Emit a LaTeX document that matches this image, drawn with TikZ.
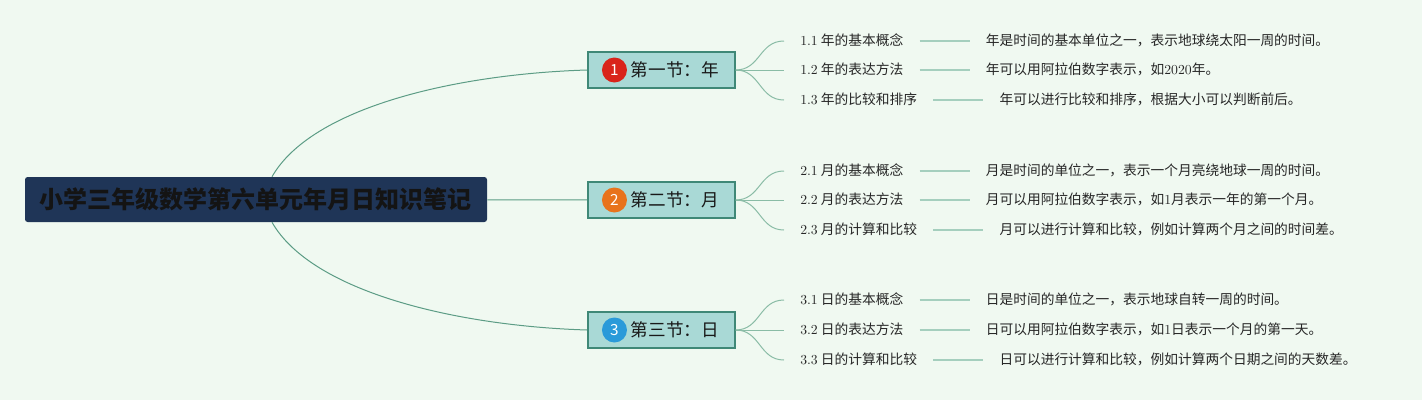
\documentclass[tikz,border=0pt]{standalone}
\usepackage{fontspec}
\newfontfamily\cjk{Noto Sans CJK SC}
\usetikzlibrary{positioning}
\definecolor{bgmint}{HTML}{F0F9F1}
\definecolor{rootblue}{HTML}{1F3557}
\definecolor{secfill}{HTML}{A9D9D6}
\definecolor{secline}{HTML}{3F8877}
\definecolor{stemgreen}{HTML}{5C9C85}
\definecolor{twiggreen}{HTML}{8ABCA6}
\definecolor{bargreen}{HTML}{A5CFBE}
\definecolor{badgered}{HTML}{D9241B}
\definecolor{badgeorange}{HTML}{E8731C}
\definecolor{badgeblue}{HTML}{2A9AD9}
\tikzstyle{root} = [rectangle, rounded corners=2pt, fill=rootblue, text=black!92, minimum width=346.5pt, minimum height=33.75pt, font=\cjk\bfseries\fontsize{18}{22}\selectfont]
\tikzstyle{section} = [rectangle, anchor=west, draw=secline, line width=1.2pt, fill=secfill, inner xsep=12pt, minimum height=27pt, text=black!90, font=\cjk\fontsize{13.2}{16}\selectfont]
\tikzstyle{badge} = [circle, inner sep=0pt, minimum size=18.75pt, text=white, font=\cjk\fontsize{11.5}{12}\selectfont]
\tikzstyle{topic} = [anchor=west, inner xsep=12pt, inner ysep=1pt, text height=8pt, text depth=2pt, text=black!85, font=\cjk\fontsize{10.3}{12}\selectfont]
\tikzstyle{note} = [inner xsep=12pt, inner ysep=1pt, text height=8pt, text depth=2pt, text=black!85, font=\cjk\fontsize{10.3}{12}\selectfont]
\tikzstyle{bough} = [draw=stemgreen, line width=0.75pt]
\tikzstyle{twig} = [draw=twiggreen, line width=0.75pt]
\tikzstyle{bar} = [draw=bargreen, line width=1.5pt]
\begin{document}
\begin{tikzpicture}[x=0.75pt, y=-0.75pt]
\fill [bgmint] (0,0) rectangle (1422,400);
\useasboundingbox (0,0) rectangle (1422,400);

\node (root) [root] at (256,199.5) {小学三年级数学第六单元年月日知识笔记};

\node (sec1) [section] at (587,70) {\hspace{20.25pt}第一节：年};
\node (num1) [badge, fill=badgered] at ([xshift=20.6pt]sec1.west) {1};
\node (sec2) [section] at (587,200) {\hspace{20.25pt}第二节：月};
\node (num2) [badge, fill=badgeorange] at ([xshift=20.6pt]sec2.west) {2};
\node (sec3) [section] at (587,330) {\hspace{20.25pt}第三节：日};
\node (num3) [badge, fill=badgeblue] at ([xshift=20.6pt]sec3.west) {3};

\draw [bough] ([xshift=12pt]root.north) .. controls +(40,-70) and +(-130,4) .. (sec1.west);
\draw [bough] (root) -- (sec2);
\draw [bough] ([xshift=12pt]root.south) .. controls +(40,70) and +(-130,-4) .. (sec3.west);

\node (t11) [topic] at (784,41) {{\rmfamily 1.1} 年的基本概念};
\node (d11) [note, right=37.5pt of t11] {年是时间的基本单位之一，表示地球绕太阳一周的时间。};
\node (t12) [topic] at (784,70) {{\rmfamily 1.2} 年的表达方法};
\node (d12) [note, right=37.5pt of t12] {年可以用阿拉伯数字表示，如{\rmfamily 2020}年。};
\node (t13) [topic] at (784,100) {{\rmfamily 1.3} 年的比较和排序};
\node (d13) [note, right=37.5pt of t13] {年可以进行比较和排序，根据大小可以判断前后。};

\node (t21) [topic] at (784,171) {{\rmfamily 2.1} 月的基本概念};
\node (d21) [note, right=37.5pt of t21] {月是时间的单位之一，表示一个月亮绕地球一周的时间。};
\node (t22) [topic] at (784,200) {{\rmfamily 2.2} 月的表达方法};
\node (d22) [note, right=37.5pt of t22] {月可以用阿拉伯数字表示，如{\rmfamily 1}月表示一年的第一个月。};
\node (t23) [topic] at (784,230) {{\rmfamily 2.3} 月的计算和比较};
\node (d23) [note, right=37.5pt of t23] {月可以进行计算和比较，例如计算两个月之间的时间差。};

\node (t31) [topic] at (784,300) {{\rmfamily 3.1} 日的基本概念};
\node (d31) [note, right=37.5pt of t31] {日是时间的单位之一，表示地球自转一周的时间。};
\node (t32) [topic] at (784,330) {{\rmfamily 3.2} 日的表达方法};
\node (d32) [note, right=37.5pt of t32] {日可以用阿拉伯数字表示，如{\rmfamily 1}日表示一个月的第一天。};
\node (t33) [topic] at (784,360) {{\rmfamily 3.3} 日的计算和比较};
\node (d33) [note, right=37.5pt of t33] {日可以进行计算和比较，例如计算两个日期之间的天数差。};

\draw [twig] (sec1.east) .. controls +(25,0) and +(-25,0) .. (t11.west);
\draw [twig] (sec1.east) -- (t12.west);
\draw [twig] (sec1.east) .. controls +(25,0) and +(-25,0) .. (t13.west);
\draw [twig] (sec2.east) .. controls +(25,0) and +(-25,0) .. (t21.west);
\draw [twig] (sec2.east) -- (t22.west);
\draw [twig] (sec2.east) .. controls +(25,0) and +(-25,0) .. (t23.west);
\draw [twig] (sec3.east) .. controls +(25,0) and +(-25,0) .. (t31.west);
\draw [twig] (sec3.east) -- (t32.west);
\draw [twig] (sec3.east) .. controls +(25,0) and +(-25,0) .. (t33.west);

\draw [bar] (t11) -- (d11);
\draw [bar] (t12) -- (d12);
\draw [bar] (t13) -- (d13);
\draw [bar] (t21) -- (d21);
\draw [bar] (t22) -- (d22);
\draw [bar] (t23) -- (d23);
\draw [bar] (t31) -- (d31);
\draw [bar] (t32) -- (d32);
\draw [bar] (t33) -- (d33);
\end{tikzpicture}
\end{document}
